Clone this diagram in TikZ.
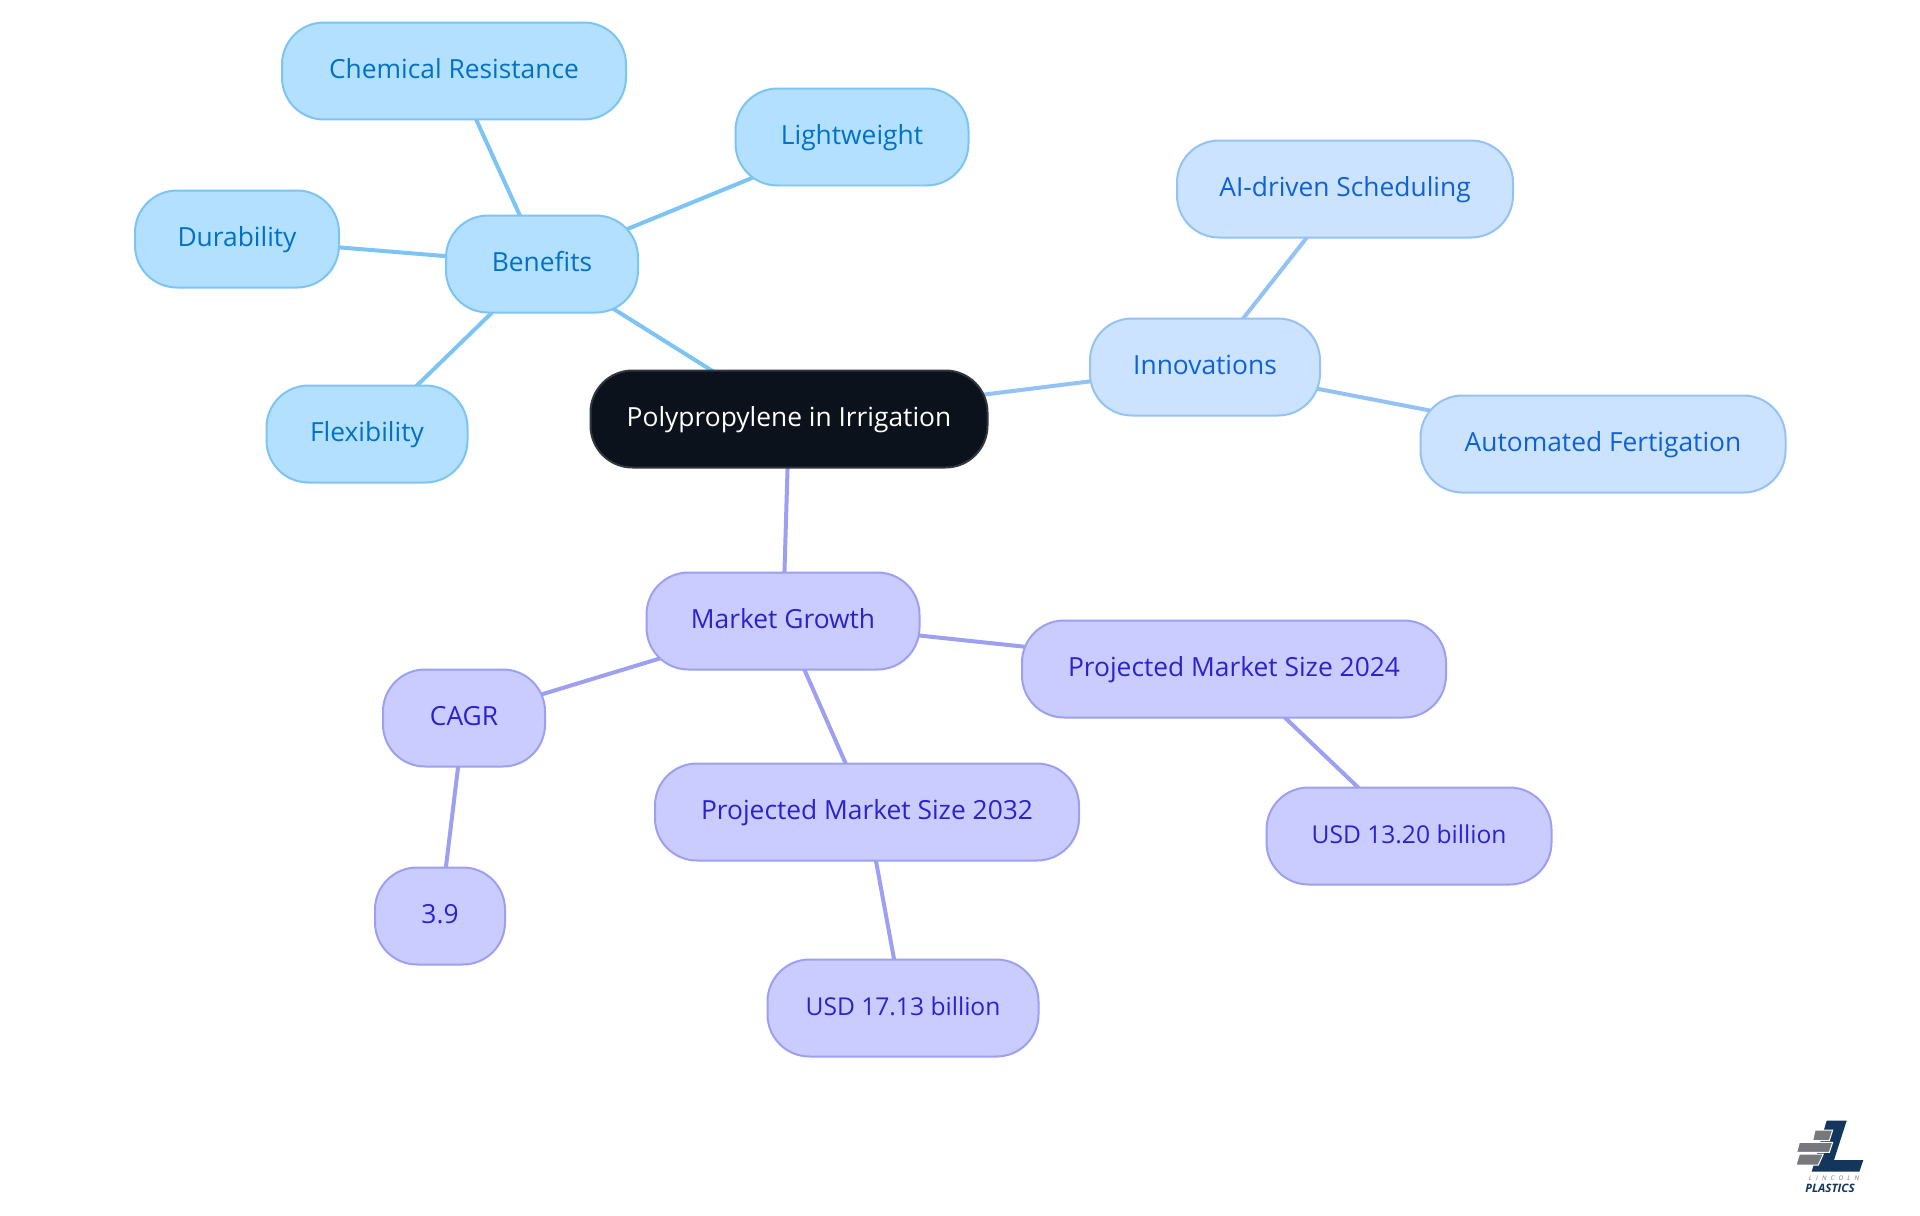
\documentclass[tikz,border=0pt]{standalone}
\usepackage{fontspec}
\setmainfont{Open Sans}
\usepackage{tikz}
\definecolor{benefitfill}{HTML}{B3E0FF}
\definecolor{benefitline}{HTML}{7BC4F4}
\definecolor{benefittext}{HTML}{0072C6}
\definecolor{innovfill}{HTML}{CCE3FF}
\definecolor{innovline}{HTML}{94C2F5}
\definecolor{innovtext}{HTML}{0F62D6}
\definecolor{marketfill}{HTML}{CACCFF}
\definecolor{marketline}{HTML}{9D9FF0}
\definecolor{markettext}{HTML}{2B22CC}
\definecolor{rootfill}{HTML}{0B121B}
\definecolor{logoblue}{HTML}{12365C}
\definecolor{logogray}{HTML}{77787B}
\usetikzlibrary{backgrounds}

\begin{document}
\begin{tikzpicture}[x=0.02cm,y=-0.02cm,
    box/.style={rectangle,rounded corners=0.84cm,line width=0.04cm,minimum height=1.94cm,
        minimum width=#1*0.02cm,inner sep=0pt,font=\fontsize{15}{18}\selectfont,
        text height=1.5ex,text depth=0pt},
    root/.style={box=#1,fill=rootfill,draw=rootfill!85!white,text=white},
    benefit/.style={box=#1,fill=benefitfill,draw=benefitline,text=benefittext},
    innov/.style={box=#1,fill=innovfill,draw=innovline,text=innovtext},
    market/.style={box=#1,fill=marketfill,draw=marketline,text=markettext},
    amount/.style={market=#1,font=\fontsize{14}{18}\selectfont},
    benefitedge/.style={draw=benefitline,line width=0.08cm},
    innovedge/.style={draw=innovline,line width=0.08cm},
    marketedge/.style={draw=marketline,line width=0.08cm}
]
\useasboundingbox (0,0) rectangle (1920,1215);

\node[root=397] (poly) at (789,419) {Polypropylene in Irrigation};

\node[benefit=192] (benefits) at (542,264) {Benefits};
\node[benefit=344] (chemical) at (454,71) {Chemical Resistance};
\node[benefit=233] (lightweight) at (852,137) {Lightweight};
\node[benefit=204] (durability) at (237,239) {Durability};
\node[benefit=201] (flexibility) at (367,434) {Flexibility};

\node[innov=230] (innovations) at (1205,367) {Innovations};
\node[innov=336] (scheduling) at (1345,189) {AI-driven Scheduling};
\node[innov=365] (fertigation) at (1603,444) {Automated Fertigation};

\node[market=273] (growth) at (783,621) {Market Growth};
\node[market=162] (cagr) at (464,718) {CAGR};
\node[market=130] (rate) at (440,916) {3.9};
\node[market=424] (size32) at (867,812) {Projected Market Size 2032};
\node[amount=271] (usd32) at (903,1008) {USD 17.13 billion};
\node[market=424] (size24) at (1234,669) {Projected Market Size 2024};
\node[amount=285] (usd24) at (1409,836) {USD 13.20 billion};

\begin{scope}[on background layer]
    \draw[benefitedge] (poly.center) -- (benefits.center);
    \draw[benefitedge] (benefits.center) -- (chemical.center);
    \draw[benefitedge] (benefits.center) -- (lightweight.center);
    \draw[benefitedge] (benefits.center) -- (durability.center);
    \draw[benefitedge] (benefits.center) -- (flexibility.center);
    \draw[innovedge] (poly.center) -- (innovations.center);
    \draw[innovedge] (innovations.center) -- (scheduling.center);
    \draw[innovedge] (innovations.center) -- (fertigation.center);
    \draw[marketedge] (poly.center) -- (growth.center);
    \draw[marketedge] (growth.center) -- (cagr.center);
    \draw[marketedge] (cagr.center) -- (rate.center);
    \draw[marketedge] (growth.center) -- (size32.center);
    \draw[marketedge] (size32.center) -- (usd32.center);
    \draw[marketedge] (growth.center) -- (size24.center);
    \draw[marketedge] (size24.center) -- (usd24.center);
\end{scope}

\begin{scope}[shift={(1760,1100)},x=0.00667cm,y=-0.00667cm]
    \fill[logoblue] (200,62) -- (260,62) -- (222,180) -- (310,180) -- (298,215) -- (155,215) -- cycle;
    \fill[logogray,draw=white,line width=0.02cm] (165,90) -- (218,90) -- (208,122) -- (158,122) -- cycle;
    \fill[logogray,draw=white,line width=0.02cm] (118,127) -- (218,127) -- (208,157) -- (110,157) -- cycle;
    \fill[logogray,draw=white,line width=0.02cm] (118,162) -- (190,162) -- (175,195) -- (108,195) -- cycle;
    \node[inner sep=0pt,text=logogray,font=\fontsize{3.6}{4}\selectfont\itshape] (lincoln) at (222,235) {L\,\,\,\,I\,\,\,\,N\,\,\,\,C\,\,\,\,O\,\,\,\,L\,\,\,\,N};
    \node[inner sep=0pt,text=logoblue,font=\fontsize{6.6}{7}\selectfont\bfseries\itshape] (plastics) at (210,265) {PLASTICS};
\end{scope}
\end{tikzpicture}
\end{document}
